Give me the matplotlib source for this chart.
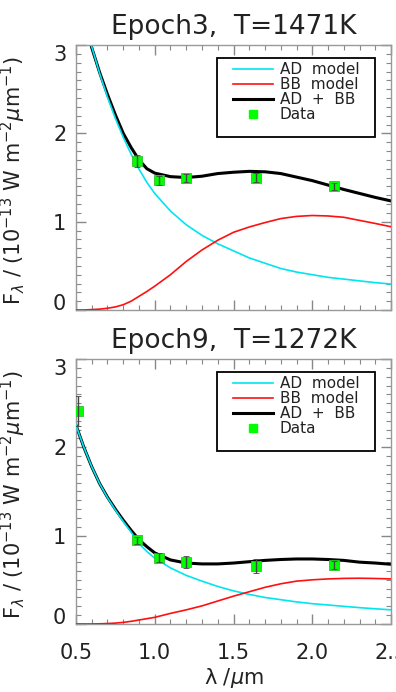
import numpy as np
import matplotlib.pyplot as plt
from matplotlib.lines import Line2D
from matplotlib.patches import Rectangle

# wavelength grid (micron) used for the model curves
wave = [0.50, 0.55, 0.60, 0.65, 0.70, 0.75, 0.80, 0.85, 0.90, 0.95, 1.00,
        1.10, 1.20, 1.30, 1.40, 1.50, 1.60, 1.70, 1.80, 1.90, 2.00,
        2.10, 2.20, 2.30, 2.40, 2.50]

# Epoch 3 (T=1471K)
ad3 = [3.72, 3.32, 2.98, 2.68, 2.41, 2.17, 1.955, 1.765, 1.595, 1.445, 1.32,
       1.12, 0.965, 0.845, 0.75, 0.67, 0.59, 0.53, 0.47, 0.43, 0.40,
       0.37, 0.35, 0.33, 0.31, 0.294]
bb3 = [0.0, 0.0, 0.005, 0.01, 0.02, 0.035, 0.06, 0.10, 0.155, 0.21, 0.27,
       0.40, 0.55, 0.68, 0.79, 0.88, 0.94, 0.99, 1.035, 1.06, 1.07,
       1.065, 1.05, 1.015, 0.98, 0.943]
tot3 = [3.72, 3.32, 2.97, 2.69, 2.44, 2.21, 2.00, 1.84, 1.70, 1.60, 1.55,
        1.51, 1.50, 1.515, 1.545, 1.56, 1.57, 1.565, 1.545, 1.505, 1.465,
        1.415, 1.365, 1.32, 1.275, 1.235]
obs_wave3 = [0.89, 1.03, 1.20, 1.64, 2.14]
obs_flux3 = [1.69, 1.47, 1.495, 1.50, 1.40]
obs_err3 = [0.07, 0.05, 0.04, 0.055, 0.04]

# Epoch 9 (T=1272K)
ad9 = [2.25, 2.00, 1.78, 1.59, 1.43, 1.29, 1.16, 1.04, 0.91, 0.82, 0.745,
       0.635, 0.55, 0.485, 0.425, 0.375, 0.335, 0.30, 0.275, 0.25, 0.23,
       0.215, 0.20, 0.185, 0.172, 0.16]
bb9 = [0.0, 0.0, 0.0, 0.002, 0.005, 0.01, 0.018, 0.03, 0.045, 0.06, 0.075,
       0.12, 0.16, 0.205, 0.26, 0.315, 0.365, 0.415, 0.455, 0.485, 0.50,
       0.51, 0.516, 0.518, 0.515, 0.51]
tot9 = [2.25, 2.00, 1.78, 1.59, 1.435, 1.30, 1.175, 1.06, 0.955, 0.875, 0.805,
        0.725, 0.69, 0.68, 0.68, 0.69, 0.705, 0.72, 0.73, 0.736, 0.736,
        0.73, 0.72, 0.70, 0.69, 0.676]
obs_wave9 = [0.515, 0.89, 1.03, 1.20, 1.64, 2.14]
obs_flux9 = [2.41, 0.95, 0.75, 0.705, 0.657, 0.668]
obs_err9 = [0.17, 0.04, 0.05, 0.07, 0.08, 0.04]

titles = ["Epoch3,  T=1471K", "Epoch9,  T=1272K"]
panels = [(ad3, bb3, tot3, obs_wave3, obs_flux3, obs_err3),
          (ad9, bb9, tot9, obs_wave9, obs_flux9, obs_err9)]

c_ad = '#00e5f0'
c_bb = '#ff1010'
c_data = '#00ff00'
txt = '#222222'

fig = plt.figure(figsize=(3.96, 6.92), dpi=100)
ax_top = fig.add_axes([0.1919, 0.5520, 0.7955, 0.3829])
ax_bot = fig.add_axes([0.1919, 0.0983, 0.7955, 0.3829])

for ax, title, (ad, bb, tot, ow, of, oe) in zip([ax_top, ax_bot], titles, panels):
    # total first, so the thin model lines sit on top where they overlap
    ax.plot(wave, tot, color='black', lw=2.2, zorder=2)
    ax.plot(wave, ad, color=c_ad, lw=1.2, zorder=3)
    ax.plot(wave, bb, color=c_bb, lw=1.2, zorder=3)
    ax.errorbar(ow, of, yerr=oe, fmt='s', color=c_data, ms=6.5, mec='#30c030',
                mew=0.6, ecolor='#444444', elinewidth=1.0, capsize=2.5,
                barsabove=True, zorder=4)

    ax.set_xlim(0.5, 2.5)
    ax.set_ylim(0, 3)
    ax.set_xticks([0.5, 1.0, 1.5, 2.0, 2.5])
    ax.set_xticks(np.arange(0.5, 2.51, 0.1), minor=True)
    ax.set_yticks([0, 1, 2, 3])
    ax.set_yticks(np.arange(0, 3.01, 0.1), minor=True)
    ax.set_xticklabels(['0.5', '1.0', '1.5', '2.0', '2.5'])
    ax.tick_params(which='both', direction='in', top=True, right=True,
                   color='#888888', labelcolor=txt, labelsize=15)
    ax.tick_params(which='major', length=7, width=1)
    ax.tick_params(which='minor', length=3.5, width=0.8)
    ax.tick_params(axis='y', pad=7)
    ax.tick_params(axis='x', pad=14)
    for sp in ax.spines.values():
        sp.set_color('#999999')
        sp.set_linewidth(1.0)

    # end labels sit inside the axis range
    yt = ax.yaxis.get_major_ticks()
    yt[0].label1.set_va('baseline')
    yt[-1].label1.set_va('top')

    ax.set_title(title, fontsize=19, color=txt, pad=8)
    ax.set_ylabel(r'F$_\lambda$ / (10$^{-13}$ W m$^{-2}$$\mu$m$^{-1}$)',
                  fontsize=15, color=txt)
    ax.yaxis.set_label_coords(-0.152, 0.49)

    # legend box drawn separately so the padding matches
    ax.add_patch(Rectangle((0.4476, 0.653), 0.502, 0.298, transform=ax.transAxes,
                           fill=False, ec='black', lw=1.3, zorder=5))
    handles = [Line2D([], [], color=c_ad, lw=1.2),
               Line2D([], [], color=c_bb, lw=1.2),
               Line2D([], [], color='black', lw=2.2),
               Line2D([], [], ls='none', marker='s', color=c_data, ms=5.5)]
    labels = ['AD  model', 'BB  model', 'AD  +  BB', 'Data']
    leg = ax.legend(handles, labels, loc='upper left', bbox_to_anchor=(0.498, 0.936),
                    frameon=False, fontsize=11, borderpad=0, borderaxespad=0,
                    handlelength=2.6, handletextpad=0.46, labelspacing=0.0,
                    numpoints=1)
    for t in leg.get_texts():
        t.set_color(txt)

ax_top.tick_params(axis='x', labelbottom=False)
ax_bot.set_xlabel('λ /$\\mu$m', fontsize=15, color=txt, labelpad=2)

plt.savefig('out.png', dpi=100)
